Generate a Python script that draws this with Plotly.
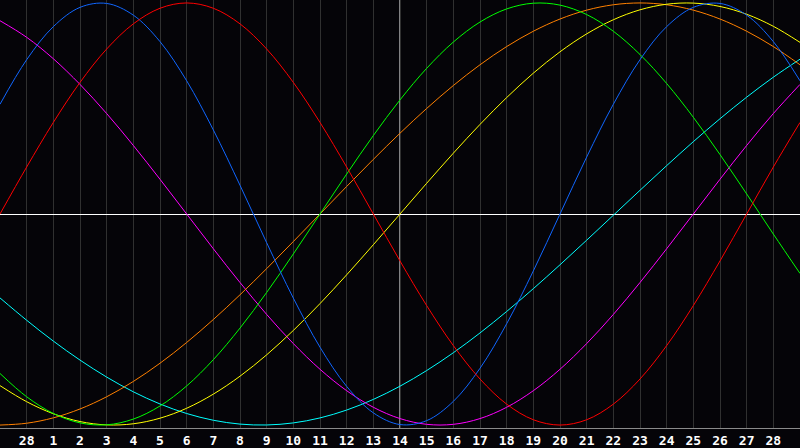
import plotly.graph_objects as go

# day slots across the chart (slot 0 = left edge, slot 30 = right edge)
slots = list(range(31))
tick_slots = list(range(1, 30))
day_labels = ['28'] + [str(d) for d in range(1, 29)]

# curve values per day slot (-1 .. 1)
red = [0.0, 0.2225, 0.4339, 0.6235, 0.7818, 0.9010, 0.9749, 1.0, 0.9749, 0.9010, 0.7818, 0.6235,
       0.4339, 0.2225, 0.0, -0.2225, -0.4339, -0.6235, -0.7818, -0.9010, -0.9749, -1.0, -0.9749,
       -0.9010, -0.7818, -0.6235, -0.4339, -0.2225, 0.0, 0.2225, 0.4339]
blue = [0.5199, 0.7311, 0.8879, 0.9791, 0.9977, 0.9422, 0.8169, 0.6312, 0.3984, 0.1362, -0.1362,
        -0.3984, -0.6312, -0.8169, -0.9422, -0.9977, -0.9791, -0.8879, -0.7311, -0.5199, -0.2698,
        0.0, 0.2698, 0.5199, 0.7311, 0.8879, 0.9791, 0.9977, 0.9422, 0.8169, 0.6312]
green = [-0.7557, -0.8660, -0.9450, -0.9898, -0.9989, -0.9718, -0.9096, -0.8147, -0.6902, -0.5406,
         -0.3717, -0.1893, 0.0, 0.1893, 0.3717, 0.5406, 0.6902, 0.8147, 0.9096, 0.9718, 0.9989,
         0.9898, 0.9450, 0.8660, 0.7557, 0.6182, 0.4582, 0.2817, 0.0950, -0.0950, -0.2817]
magenta = [0.9158, 0.8372, 0.7357, 0.6140, 0.4759, 0.3247, 0.1646, 0.0, -0.1646, -0.3247, -0.4759,
           -0.6140, -0.7357, -0.8372, -0.9158, -0.9694, -0.9966, -0.9966, -0.9694, -0.9158,
           -0.8372, -0.7357, -0.6140, -0.4759, -0.3247, -0.1646, 0.0, 0.1646, 0.3247, 0.4759,
           0.6140]
cyan = [-0.3977, -0.5035, -0.6022, -0.6922, -0.7727, -0.8425, -0.9002, -0.9454, -0.9773, -0.9955,
        -0.9997, -0.9899, -0.9662, -0.9289, -0.8786, -0.8159, -0.7418, -0.6574, -0.5636, -0.4619,
        -0.3537, -0.2406, -0.1241, -0.0059, 0.1123, 0.2292, 0.3427, 0.4514, 0.5536, 0.6482, 0.7336]
orange = [-1.0, -0.9914, -0.9659, -0.9239, -0.8660, -0.7934, -0.7071, -0.6088, -0.5, -0.3827,
          -0.2588, -0.1305, 0.0, 0.1305, 0.2588, 0.3827, 0.5, 0.6088, 0.7071, 0.7934, 0.8660,
          0.9239, 0.9659, 0.9914, 1.0, 0.9914, 0.9659, 0.9239, 0.8660, 0.7934, 0.7071]
yellow = [-0.8133, -0.8894, -0.9465, -0.9834, -0.9993, -0.9940, -0.9675, -0.9204, -0.8535, -0.7685,
          -0.6673, -0.5517, -0.4245, -0.2881, -0.1456, 0.0, 0.1456, 0.2881, 0.4245, 0.5517, 0.6673,
          0.7685, 0.8535, 0.9204, 0.9675, 0.9940, 0.9993, 0.9834, 0.9465, 0.8894, 0.8133]

series = [
    (cyan, '#00ffff'),
    (magenta, '#ff00ff'),
    (orange, '#ff8000'),
    (yellow, '#ffff00'),
    (green, '#00ff00'),
    (blue, '#1066ff'),
    (red, '#ff0000'),
]

fig = go.Figure()
for vals, col in series:
    fig.add_trace(go.Scatter(x=slots, y=vals, mode='lines',
                             line=dict(color=col, width=1, shape='spline', smoothing=1.0),
                             hoverinfo='skip', showlegend=False))

# white marker for today
fig.add_shape(type='line', x0=15, x1=15, y0=0, y1=1, yref='paper',
              line=dict(color='white', width=1), layer='between')

fig.update_layout(
    width=800, height=448,
    margin=dict(l=0, r=0, t=0, b=20),
    paper_bgcolor='#050408',
    plot_bgcolor='#050408',
    xaxis=dict(range=[0, 30], tickvals=tick_slots, ticktext=day_labels,
               showgrid=True, gridcolor='#303030', gridwidth=1,
               zeroline=False, showline=True, mirror=True,
               linecolor='#8a8a8a', linewidth=1, ticks='',
               tickfont=dict(family='DejaVu Sans Mono', size=13, color='white', weight='bold')),
    yaxis=dict(range=[-1.014, 1.014], showgrid=False, showticklabels=False,
               zeroline=True, zerolinecolor='white', zerolinewidth=1,
               showline=True, mirror=True, linecolor='#8a8a8a', linewidth=1, ticks=''),
)

fig.write_html("out.html", config={'displayModeBar': False},
               post_script="document.body.style.margin='0';document.body.style.overflow='hidden';")
